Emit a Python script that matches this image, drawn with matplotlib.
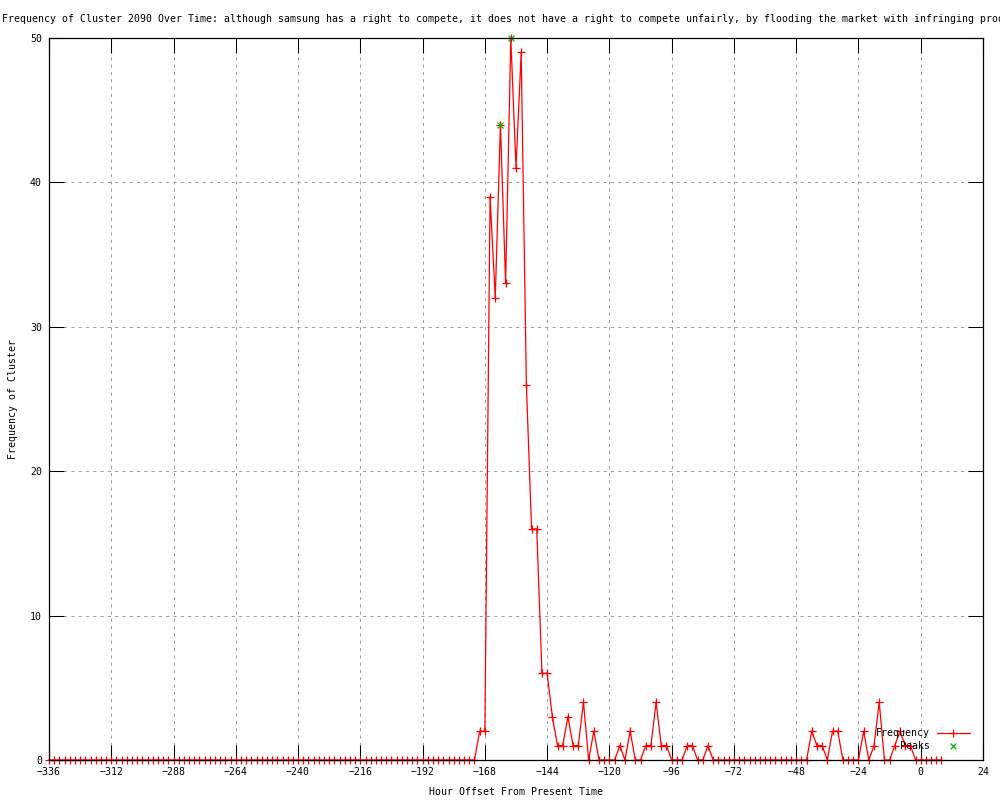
import numpy as np
import matplotlib
matplotlib.use("Agg")
import matplotlib.pyplot as plt
from matplotlib.lines import Line2D

# hours before now, sampled every 2 hours
hours = np.arange(-336, 10, 2)

freq = [0] * 83 + [
    2, 2, 39, 32, 44, 33, 50, 41, 49, 26,      # -170 .. -152
    16, 16, 6, 6, 3, 1, 1, 3, 1, 1,            # -150 .. -132
    4, 0, 2, 0, 0, 0, 0, 1, 0, 2,              # -130 .. -112
    0, 0, 1, 1, 4, 1, 1, 0, 0, 0,              # -110 .. -92
    1, 1, 0, 0, 1, 0,                          # -90 .. -80
] + [0] * 18 + [
    2, 1, 1, 0, 2, 2, 0, 0, 0, 0,              # -42 .. -24
    2, 0, 1, 4, 0, 0, 1, 2, 1, 1,              # -22 .. -4
    0, 0, 0, 0, 0, 0,                          # -2 .. 8
]

peak_hours = [-162, -158]
peak_vals = [44, 50]

title = ("Frequency of Cluster 2090 Over Time: although samsung has a right to compete, "
         "it does not have a right to compete unfairly, by flooding the market with "
         "infringing products")

xticks = list(range(-336, 25, 24))
yticks = [0, 10, 20, 30, 40, 50]

plt.rcParams['font.family'] = ['DejaVu Sans Mono']
plt.rcParams['font.size'] = 7.1

fig = plt.figure(figsize=(10, 8), dpi=100)
ax = fig.add_axes([0.049, 0.05, 0.934, 0.9025])

ax.plot(hours, freq, color='#ff0000', lw=0.9, marker='+', ms=5.5, mew=0.9,
        clip_on=False, zorder=3)
ax.plot(peak_hours, peak_vals, ls='none', color='#00c000', marker='x', ms=5,
        mew=0.9, clip_on=False, zorder=4)

ax.set_xlim(-336, 24)
ax.set_ylim(0, 50)
ax.set_xticks(xticks)
ax.set_yticks(yticks)

ax.grid(True, color='#a0a0a0', lw=0.75, ls=(0, (3, 4)))
ax.set_axisbelow(True)
ax.tick_params(direction='in', length=11, width=0.75, top=True, right=True,
               colors='black')
ax.tick_params(axis='x', pad=5)
ax.tick_params(axis='y', pad=5)
for s in ax.spines.values():
    s.set_linewidth(0.9)
    s.set_zorder(5)

ax.set_xlabel("Hour Offset From Present Time")
ax.xaxis.set_label_coords(0.5, -0.037)
ax.set_ylabel("Frequency of Cluster")
ax.yaxis.set_label_coords(-0.033, 0.5)

# gnuplot-style key, text right-justified before the sample
tr = ax.transAxes
ax.text(0.943, 0.0374, "Frequency", transform=tr, ha='right', va='center', zorder=6)
ax.text(0.943, 0.0194, "Peaks", transform=tr, ha='right', va='center', zorder=6)
ax.add_line(Line2D([0.951, 0.986], [0.0374, 0.0374], transform=tr, color='#ff0000',
                   lw=0.9, zorder=6))
ax.add_line(Line2D([0.968], [0.0374], transform=tr, color='#ff0000', marker='+',
                   ms=5.5, mew=0.9, zorder=6))
ax.add_line(Line2D([0.968], [0.0194], transform=tr, color='#00c000', marker='x',
                   ms=5, mew=0.9, zorder=6))

# title is wider than the canvas, so it runs off the right edge as in the original
fig.text(0.002, 1 - 19 / 800, title, ha='left', va='center', fontsize=7.15)

fig.savefig("out.png", dpi=100)
